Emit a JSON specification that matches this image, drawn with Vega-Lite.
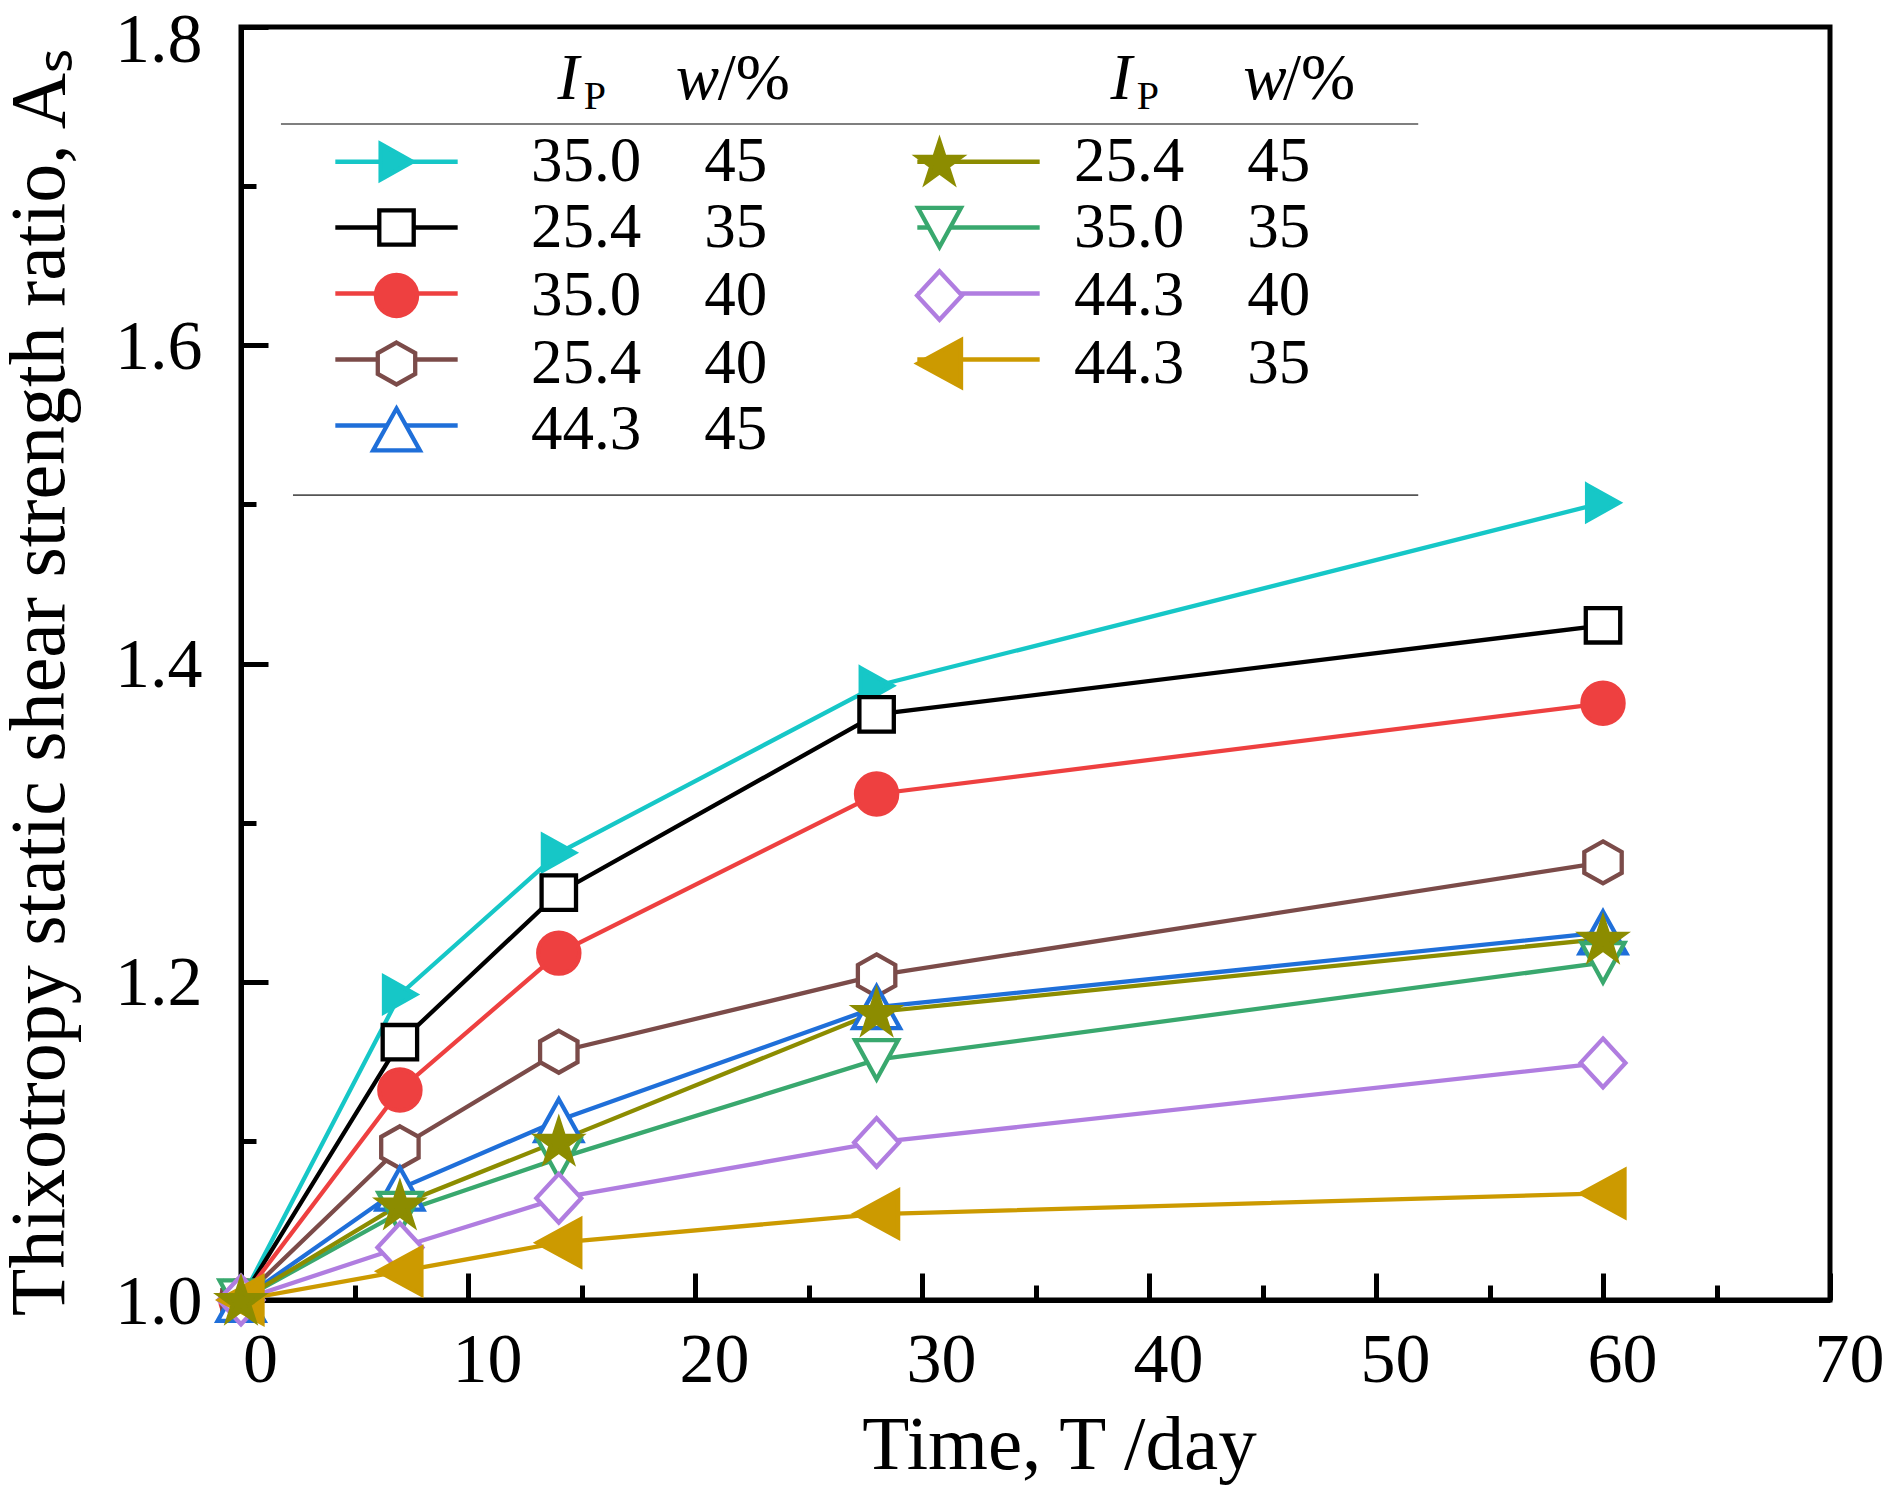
{
  "$schema": "https://vega.github.io/schema/vega-lite/v6.json",
  "width": 1589,
  "height": 1273,
  "autosize": {"type": "none"},
  "padding": {"left": 241, "top": 27, "right": 63, "bottom": 192},
  "background": "white",
  "config": {
    "font": "Liberation Serif",
    "view": {"stroke": "black", "strokeWidth": 5},
    "axis": {"grid": false, "domainColor": "black", "domainWidth": 5, "tickColor": "black", "tickWidth": 5, "labelColor": "black", "titleColor": "black", "labelFont": "Liberation Serif", "titleFont": "Liberation Serif", "titleFontWeight": "normal"}
  },
  "data": {
    "values": [
      {"day": 0, "ratio": 1.0, "series": "35.0/45"},
      {"day": 7, "ratio": 1.192, "series": "35.0/45"},
      {"day": 14, "ratio": 1.281, "series": "35.0/45"},
      {"day": 28, "ratio": 1.386, "series": "35.0/45"},
      {"day": 60, "ratio": 1.501, "series": "35.0/45"},
      {"day": 0, "ratio": 1.0, "series": "25.4/35"},
      {"day": 7, "ratio": 1.162, "series": "25.4/35"},
      {"day": 14, "ratio": 1.256, "series": "25.4/35"},
      {"day": 28, "ratio": 1.368, "series": "25.4/35"},
      {"day": 60, "ratio": 1.424, "series": "25.4/35"},
      {"day": 0, "ratio": 1.0, "series": "35.0/40"},
      {"day": 7, "ratio": 1.132, "series": "35.0/40"},
      {"day": 14, "ratio": 1.218, "series": "35.0/40"},
      {"day": 28, "ratio": 1.318, "series": "35.0/40"},
      {"day": 60, "ratio": 1.375, "series": "35.0/40"},
      {"day": 0, "ratio": 1.0, "series": "25.4/40"},
      {"day": 7, "ratio": 1.096, "series": "25.4/40"},
      {"day": 14, "ratio": 1.156, "series": "25.4/40"},
      {"day": 28, "ratio": 1.204, "series": "25.4/40"},
      {"day": 60, "ratio": 1.275, "series": "25.4/40"},
      {"day": 0, "ratio": 1.0, "series": "44.3/45"},
      {"day": 7, "ratio": 1.07, "series": "44.3/45"},
      {"day": 14, "ratio": 1.113, "series": "44.3/45"},
      {"day": 28, "ratio": 1.184, "series": "44.3/45"},
      {"day": 60, "ratio": 1.231, "series": "44.3/45"},
      {"day": 0, "ratio": 1.0, "series": "35.0/35"},
      {"day": 7, "ratio": 1.055, "series": "35.0/35"},
      {"day": 14, "ratio": 1.089, "series": "35.0/35"},
      {"day": 28, "ratio": 1.151, "series": "35.0/35"},
      {"day": 60, "ratio": 1.212, "series": "35.0/35"},
      {"day": 0, "ratio": 1.0, "series": "44.3/40"},
      {"day": 7, "ratio": 1.033, "series": "44.3/40"},
      {"day": 14, "ratio": 1.064, "series": "44.3/40"},
      {"day": 28, "ratio": 1.099, "series": "44.3/40"},
      {"day": 60, "ratio": 1.149, "series": "44.3/40"},
      {"day": 0, "ratio": 1.0, "series": "44.3/35"},
      {"day": 7, "ratio": 1.018, "series": "44.3/35"},
      {"day": 14, "ratio": 1.036, "series": "44.3/35"},
      {"day": 28, "ratio": 1.054, "series": "44.3/35"},
      {"day": 60, "ratio": 1.067, "series": "44.3/35"},
      {"day": 0, "ratio": 1.0, "series": "25.4/45"},
      {"day": 7, "ratio": 1.06, "series": "25.4/45"},
      {"day": 14, "ratio": 1.1, "series": "25.4/45"},
      {"day": 28, "ratio": 1.181, "series": "25.4/45"},
      {"day": 60, "ratio": 1.227, "series": "25.4/45"}
    ]
  },
  "resolve": {
    "axis": {"x": "independent", "y": "independent"},
    "scale": {"stroke": "independent", "fill": "independent", "shape": "independent"},
    "legend": {"stroke": "independent", "fill": "independent", "shape": "independent"}
  },
  "layer": [
    {
      "mark": {"type": "line", "strokeWidth": 4.3},
      "encoding": {
        "x": {"field": "day", "type": "quantitative", "scale": {"domain": [0, 70], "nice": false, "zero": false},
          "axis": {"orient": "bottom", "values": [0, 10, 20, 30, 40, 50, 60, 70], "tickSize": -27, "labelFontSize": 70, "labelPadding": 53, "labelOffset": 19, "labelFlush": false, "labelOverlap": false,
            "title": "Time, T /day", "titleFontSize": 77, "titlePadding": 12, "titleX": 818}},
        "y": {"field": "ratio", "type": "quantitative", "scale": {"domain": [1.0, 1.8], "nice": false, "zero": false},
          "axis": {"orient": "left", "values": [1.0, 1.2, 1.4, 1.6, 1.8], "format": ".1f", "tickSize": -27, "labelFontSize": 70, "labelPadding": 66,
            "labelOffset": {"condition": {"test": "datum.value >= 1.79", "value": 13}, "value": 2}, "labelFlush": false, "labelOverlap": false,
            "title": "Thixotropy static shear strength ratio, Aₛ", "titleFontSize": 78, "titleX": -162, "titleY": 655}},
        "stroke": {"field": "series", "type": "nominal",
          "scale": {"domain": ["35.0/45", "25.4/35", "35.0/40", "25.4/40", "44.3/45", "25.4/45", "35.0/35", "44.3/40", "44.3/35"],
            "range": ["#16C7C7", "#000000", "#EE4040", "#7B4B49", "#1F6FD9", "#8C8C00", "#39A86E", "#B07DE0", "#CC9A00"]},
          "legend": {"orient": "none", "legendX": 124, "legendY": 103, "columns": 2, "columnPadding": 140, "rowPadding": 2, "padding": 0, "title": null,
            "symbolType": "M-3.27,0H3.27", "symbolSize": 1400, "symbolStrokeWidth": 4.3, "symbolOffset": 0,
            "labelFont": "Liberation Serif", "labelFontSize": 63, "labelColor": "black", "labelOpacity": 0, "labelOffset": 103, "labelLimit": 0,
            "labelExpr": "replace(datum.label, '/', '\u2002\u2002')"}},
        "detail": {"field": "series"}
      }
    },
    {
      "mark": {"type": "point", "size": 1400, "strokeWidth": 4.3, "opacity": 1, "filled": false},
      "encoding": {
        "x": {"field": "day", "type": "quantitative",
          "axis": {"orient": "bottom", "values": [5, 15, 25, 35, 45, 55, 65], "tickSize": -15, "labels": false, "domain": false, "title": null}},
        "y": {"field": "ratio", "type": "quantitative",
          "axis": {"orient": "left", "values": [1.1, 1.3, 1.5, 1.7], "tickSize": -15, "labels": false, "domain": false, "title": null}},
        "stroke": {"field": "series", "type": "nominal",
          "scale": {"domain": ["35.0/45", "25.4/35", "35.0/40", "25.4/40", "44.3/45", "25.4/45", "35.0/35", "44.3/40", "44.3/35"],
            "range": ["#16C7C7", "#000000", "#EE4040", "#7B4B49", "#1F6FD9", "#8C8C00", "#39A86E", "#B07DE0", "#CC9A00"]},
          "legend": {"orient": "none", "legendX": 124, "legendY": 103, "columns": 2, "columnPadding": 140, "rowPadding": 2, "padding": 0, "title": null,
            "symbolSize": 1400, "symbolStrokeWidth": 4.3, "symbolOffset": 0,
            "labelFont": "Liberation Serif", "labelFontSize": 63, "labelColor": "black", "labelOffset": 103, "labelLimit": 0,
            "labelExpr": "replace(datum.label, '/', '\u2002\u2002')"}},
        "fill": {"field": "series", "type": "nominal",
          "scale": {"domain": ["35.0/45", "25.4/35", "35.0/40", "25.4/40", "44.3/45", "25.4/45", "35.0/35", "44.3/40", "44.3/35"],
            "range": ["#16C7C7", "#FFFFFF", "#EE4040", "#FFFFFF", "#FFFFFF", "#8C8C00", "#FFFFFF", "#FFFFFF", "#CC9A00"]}},
        "shape": {"field": "series", "type": "nominal",
          "scale": {"domain": ["35.0/45", "25.4/35", "35.0/40", "25.4/40", "44.3/45", "25.4/45", "35.0/35", "44.3/40", "44.3/35"],
            "range": [
              "M-0.85,-0.95L0.85,0L-0.85,0.95Z",
              "M-0.92,-0.92H0.92V0.92H-0.92Z",
              "M1.1,0A1.1,1.1,0,1,1,-1.1,0A1.1,1.1,0,1,1,1.1,0Z",
              "M0,-1.12L1,-0.56L1,0.56L0,1.12L-1,0.56L-1,-0.56Z",
              "M0,-1.12L1.25,1.12H-1.25Z",
              "M0,-1.09L0.269,-0.261L1.141,-0.261L0.436,0.252L0.705,1.081L0,0.568L-0.705,1.081L-0.436,0.252L-1.141,-0.261L-0.269,-0.261Z",
              "M-1.15,-1.05H1.15L0,1.05Z",
              "M0,-1.3L1.2,0L0,1.3L-1.2,0Z",
              "M1.15,-1.25V1.25L-1.15,0Z"
            ]}}
      }
    },
    {
      "data": {"values": [{}]},
      "mark": {"type": "rule", "stroke": "#555555", "strokeWidth": 1.6},
      "encoding": {
        "x": {"datum": 1.76, "type": "quantitative", "axis": null},
        "x2": {"datum": 51.86},
        "y": {"datum": 1.739, "type": "quantitative", "axis": null}
      }
    },
    {
      "data": {"values": [{}]},
      "mark": {"type": "rule", "stroke": "#555555", "strokeWidth": 1.6},
      "encoding": {
        "x": {"datum": 2.29, "type": "quantitative", "axis": null},
        "x2": {"datum": 51.86},
        "y": {"datum": 1.5058, "type": "quantitative", "axis": null}
      }
    },
    {
      "data": {"values": [{}]},
      "mark": {"type": "text", "text": "I", "font": "Liberation Serif", "fontStyle": "italic", "fontSize": 65, "align": "left", "baseline": "alphabetic", "color": "black"},
      "encoding": {"x": {"datum": 13.94, "type": "quantitative", "axis": null}, "y": {"datum": 1.7545, "type": "quantitative", "axis": null}}
    },
    {
      "data": {"values": [{}]},
      "mark": {"type": "text", "text": "P", "font": "Liberation Serif", "fontSize": 40, "align": "left", "baseline": "alphabetic", "color": "black"},
      "encoding": {"x": {"datum": 15.1, "type": "quantitative", "axis": null}, "y": {"datum": 1.7485, "type": "quantitative", "axis": null}}
    },
    {
      "data": {"values": [{}]},
      "mark": {"type": "text", "text": "w", "font": "Liberation Serif", "fontStyle": "italic", "fontSize": 65, "align": "left", "baseline": "alphabetic", "color": "black"},
      "encoding": {"x": {"datum": 19.15, "type": "quantitative", "axis": null}, "y": {"datum": 1.7545, "type": "quantitative", "axis": null}}
    },
    {
      "data": {"values": [{}]},
      "mark": {"type": "text", "text": "/%", "font": "Liberation Serif", "fontSize": 65, "align": "left", "baseline": "alphabetic", "color": "black"},
      "encoding": {"x": {"datum": 21.0, "type": "quantitative", "axis": null}, "y": {"datum": 1.7545, "type": "quantitative", "axis": null}}
    },
    {
      "data": {"values": [{}]},
      "mark": {"type": "text", "text": "I", "font": "Liberation Serif", "fontStyle": "italic", "fontSize": 65, "align": "left", "baseline": "alphabetic", "color": "black"},
      "encoding": {"x": {"datum": 38.3, "type": "quantitative", "axis": null}, "y": {"datum": 1.7545, "type": "quantitative", "axis": null}}
    },
    {
      "data": {"values": [{}]},
      "mark": {"type": "text", "text": "P", "font": "Liberation Serif", "fontSize": 40, "align": "left", "baseline": "alphabetic", "color": "black"},
      "encoding": {"x": {"datum": 39.46, "type": "quantitative", "axis": null}, "y": {"datum": 1.7485, "type": "quantitative", "axis": null}}
    },
    {
      "data": {"values": [{}]},
      "mark": {"type": "text", "text": "w", "font": "Liberation Serif", "fontStyle": "italic", "fontSize": 65, "align": "left", "baseline": "alphabetic", "color": "black"},
      "encoding": {"x": {"datum": 44.15, "type": "quantitative", "axis": null}, "y": {"datum": 1.7545, "type": "quantitative", "axis": null}}
    },
    {
      "data": {"values": [{}]},
      "mark": {"type": "text", "text": "/%", "font": "Liberation Serif", "fontSize": 65, "align": "left", "baseline": "alphabetic", "color": "black"},
      "encoding": {"x": {"datum": 45.9, "type": "quantitative", "axis": null}, "y": {"datum": 1.7545, "type": "quantitative", "axis": null}}
    }
  ]
}
